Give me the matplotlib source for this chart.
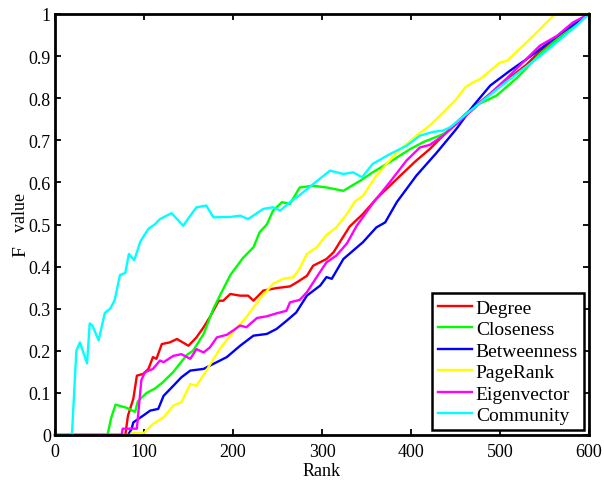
import matplotlib
matplotlib.use("Agg")
import matplotlib.pyplot as plt

plt.rcParams['font.family'] = ['Liberation Serif', 'DejaVu Serif']

labels = ['Degree', 'Closeness', 'Betweenness', 'PageRank', 'Eigenvector', 'Community']
colors = ['#ff0000', '#00ff00', '#0000ff', '#ffff00', '#ff00ff', '#00ffff']

degree_x = [0, 79, 82, 88, 92, 99, 105, 110, 114, 120, 129, 137, 150, 159, 167, 174, 184, 189, 197, 208, 217, 223, 234, 249, 264, 272, 283, 290, 305, 313, 320, 331, 346, 361, 384, 406, 421, 436, 459, 480, 507, 530, 545, 564, 582, 600]
degree_y = [0, 0, 0.046, 0.086, 0.141, 0.145, 0.157, 0.185, 0.181, 0.216, 0.22, 0.228, 0.212, 0.232, 0.256, 0.28, 0.319, 0.319, 0.335, 0.331, 0.331, 0.319, 0.343, 0.349, 0.353, 0.363, 0.378, 0.402, 0.418, 0.434, 0.458, 0.495, 0.525, 0.561, 0.608, 0.652, 0.679, 0.711, 0.758, 0.795, 0.842, 0.88, 0.912, 0.94, 0.972, 1.0]

closeness_x = [0, 59, 63, 68, 80, 90, 93, 103, 112, 121, 133, 148, 155, 167, 178, 185, 197, 211, 223, 230, 238, 245, 255, 264, 275, 290, 305, 324, 331, 343, 357, 376, 399, 414, 432, 440, 470, 496, 520, 545, 575, 600]
closeness_y = [0, 0, 0.04, 0.072, 0.065, 0.055, 0.08, 0.1, 0.11, 0.125, 0.15, 0.19, 0.2, 0.24, 0.3, 0.33, 0.38, 0.42, 0.446, 0.482, 0.5, 0.533, 0.553, 0.549, 0.588, 0.592, 0.588, 0.58, 0.589, 0.604, 0.624, 0.648, 0.679, 0.696, 0.711, 0.719, 0.78, 0.806, 0.85, 0.905, 0.96, 1.0]

betweenness_x = [0, 82, 86, 88, 99, 107, 116, 122, 133, 142, 152, 167, 178, 193, 208, 223, 238, 249, 260, 271, 283, 298, 305, 311, 324, 335, 346, 361, 371, 384, 406, 429, 451, 470, 489, 511, 530, 556, 571, 600]
betweenness_y = [0, 0, 0.014, 0.03, 0.046, 0.058, 0.062, 0.093, 0.117, 0.137, 0.153, 0.157, 0.169, 0.185, 0.212, 0.236, 0.24, 0.252, 0.271, 0.291, 0.331, 0.355, 0.375, 0.371, 0.418, 0.438, 0.458, 0.493, 0.505, 0.553, 0.616, 0.671, 0.727, 0.782, 0.83, 0.865, 0.893, 0.934, 0.958, 1.0]

pagerank_x = [0, 85, 86, 100, 110, 122, 133, 142, 152, 159, 170, 185, 200, 215, 230, 245, 256, 268, 275, 283, 294, 305, 316, 328, 337, 346, 361, 384, 406, 421, 436, 451, 461, 470, 478, 500, 508, 534, 562, 600]
pagerank_y = [0, 0, 0.005, 0.005, 0.026, 0.042, 0.07, 0.078, 0.121, 0.117, 0.153, 0.204, 0.244, 0.28, 0.323, 0.359, 0.371, 0.375, 0.396, 0.43, 0.446, 0.475, 0.493, 0.525, 0.555, 0.568, 0.616, 0.671, 0.711, 0.735, 0.766, 0.798, 0.826, 0.838, 0.846, 0.885, 0.889, 0.941, 1.0, 1.0]

eigen_x = [0, 75, 76, 92, 97, 101, 110, 118, 122, 133, 142, 152, 159, 167, 174, 182, 193, 200, 208, 215, 227, 238, 249, 260, 264, 275, 283, 294, 305, 316, 328, 339, 358, 376, 395, 410, 421, 436, 470, 508, 545, 564, 582, 600]
eigen_y = [0, 0, 0.015, 0.015, 0.13, 0.149, 0.157, 0.177, 0.173, 0.188, 0.192, 0.181, 0.204, 0.196, 0.208, 0.232, 0.238, 0.248, 0.26, 0.256, 0.278, 0.282, 0.289, 0.295, 0.315, 0.321, 0.339, 0.375, 0.41, 0.426, 0.455, 0.497, 0.553, 0.6, 0.652, 0.683, 0.689, 0.711, 0.774, 0.848, 0.925, 0.948, 0.98, 1.0]

community_x = [0, 19, 24, 28, 36, 39, 42, 49, 56, 62, 67, 73, 79, 83, 89, 96, 105, 112, 118, 131, 144, 152, 159, 170, 178, 197, 208, 217, 234, 245, 253, 264, 275, 290, 309, 324, 335, 345, 357, 376, 395, 410, 425, 436, 444, 470, 508, 545, 582, 600]
community_y = [0, 0, 0.2, 0.22, 0.17, 0.265, 0.26, 0.225, 0.29, 0.3, 0.32, 0.38, 0.385, 0.43, 0.415, 0.46, 0.49, 0.5, 0.513, 0.527, 0.497, 0.521, 0.541, 0.545, 0.517, 0.518, 0.521, 0.513, 0.537, 0.541, 0.533, 0.553, 0.57, 0.596, 0.628, 0.62, 0.624, 0.612, 0.644, 0.667, 0.687, 0.711, 0.72, 0.723, 0.731, 0.776, 0.84, 0.9, 0.965, 1.0]

xticks = [0, 100, 200, 300, 400, 500, 600]
yticks = [0, 0.1, 0.2, 0.3, 0.4, 0.5, 0.6, 0.7, 0.8, 0.9, 1]
ytick_labels = ['0', '0.1', '0.2', '0.3', '0.4', '0.5', '0.6', '0.7', '0.8', '0.9', '1']

series = [(degree_x, degree_y), (closeness_x, closeness_y), (betweenness_x, betweenness_y),
          (pagerank_x, pagerank_y), (eigen_x, eigen_y), (community_x, community_y)]

fig = plt.figure(figsize=(6.04, 4.81), dpi=100)
ax = fig.add_axes([55/604, 1-436/481, (589-55)/604, (436-15)/481])

for (xs, ys), lab, c in zip(series, labels, colors):
    ax.plot(xs, ys, color=c, lw=1.7, label=lab, clip_on=False)

ax.set_xlim(0, 600)
ax.set_ylim(0, 1)
ax.set_xticks(xticks)
ax.set_yticks(yticks)
ax.set_yticklabels(ytick_labels)
ax.tick_params(direction='in', top=True, right=True, length=4, width=1.3,
               labelsize=13, colors='black')
ax.tick_params(axis='x', pad=6)
ax.tick_params(axis='y', pad=3)
for s in ax.spines.values():
    s.set_linewidth(2.0)
    s.set_zorder(5)

ax.set_xlabel('Rank', fontsize=13, labelpad=1)

fig.text(25/604, 1-257/481, 'F', rotation=90, rotation_mode='anchor',
         ha='left', va='baseline', fontsize=14)
fig.text(25/604, 1-232/481, 'value', rotation=90, rotation_mode='anchor',
         ha='left', va='baseline', fontsize=13)

leg = ax.legend(loc='lower right', fontsize=14, fancybox=False, framealpha=1,
                edgecolor='black', borderaxespad=0.26, handlelength=1.75,
                handletextpad=0.2, labelspacing=0.2, borderpad=0.3)
leg.get_frame().set_linewidth(1.8)

fig.savefig('out.png', dpi=100)
